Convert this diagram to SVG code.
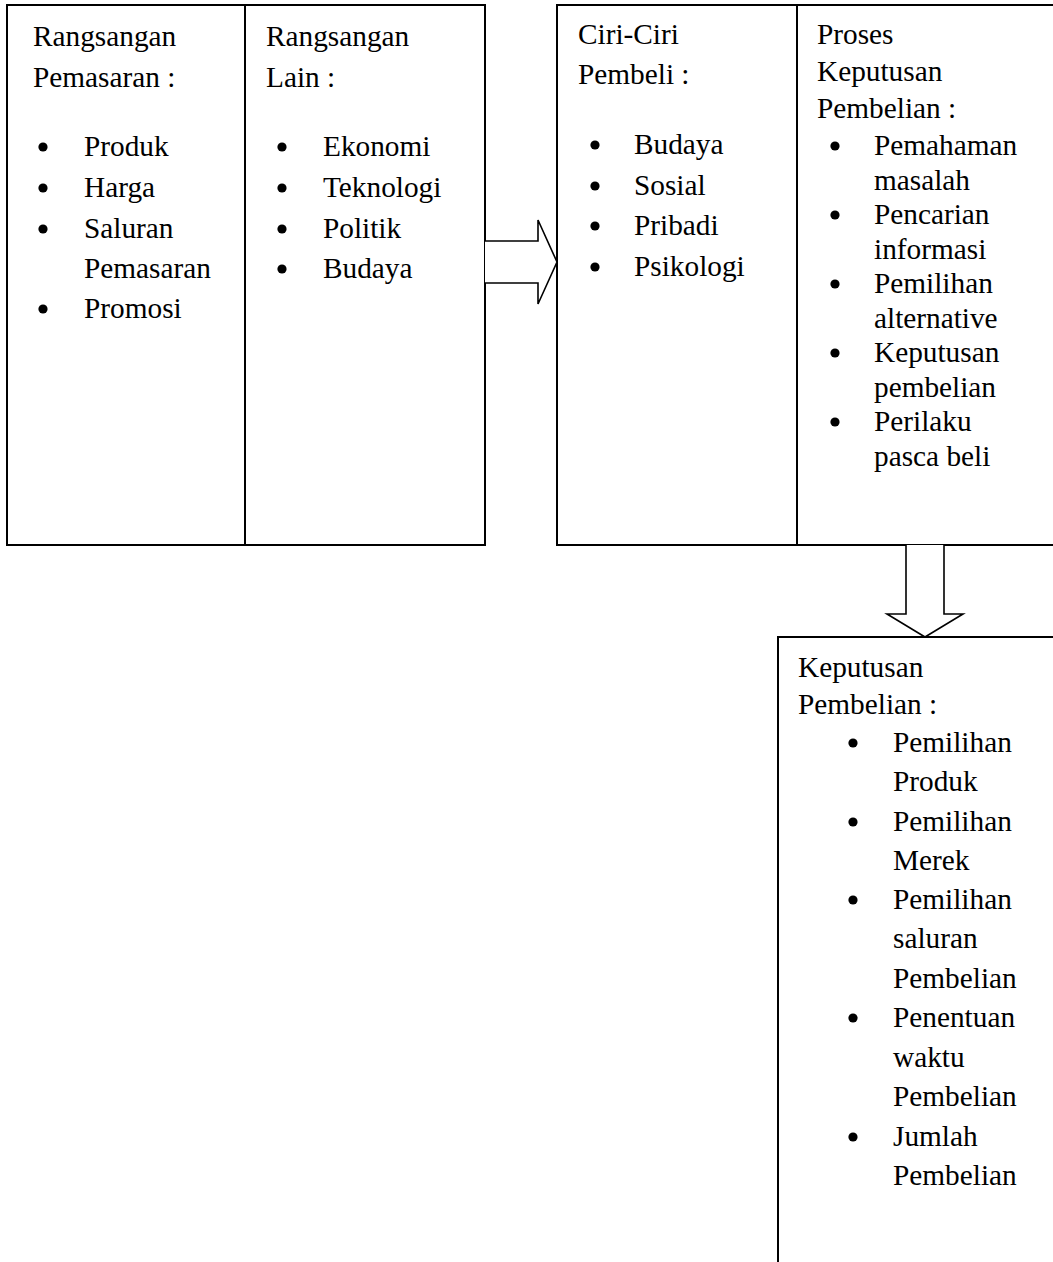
<svg xmlns="http://www.w3.org/2000/svg" width="1053" height="1262" viewBox="0 0 1053 1262">
<style>
text{font-family:"Liberation Serif","Times New Roman",serif;font-size:29.3px;fill:#000}
.box{fill:#fff;stroke:#000;stroke-width:2}
.b{fill:#000}
.conn{fill:#fff;stroke:#000;stroke-width:1.6;stroke-linejoin:miter}
</style>
<rect width="1053" height="1262" fill="#fff"/>
<g id="rangsangan-pemasaran">
<rect class="box" x="7" y="5" width="238" height="540"/>
<text x="33" y="46">Rangsangan</text>
<text x="33" y="87">Pemasaran :</text>
<circle class="b" cx="43" cy="147" r="4.6"/><text x="84" y="156">Produk</text>
<circle class="b" cx="43" cy="188" r="4.6"/><text x="84" y="197">Harga</text>
<circle class="b" cx="43" cy="229" r="4.6"/><text x="84" y="238">Saluran</text>
<text x="84" y="278">Pemasaran</text>
<circle class="b" cx="43" cy="309" r="4.6"/><text x="84" y="318">Promosi</text>
</g>
<g id="rangsangan-lain">
<rect class="box" x="245" y="5" width="240" height="540"/>
<text x="266" y="46">Rangsangan</text>
<text x="266" y="87">Lain :</text>
<circle class="b" cx="282" cy="147" r="4.6"/><text x="323" y="156">Ekonomi</text>
<circle class="b" cx="282" cy="188" r="4.6"/><text x="323" y="197">Teknologi</text>
<circle class="b" cx="282" cy="229" r="4.6"/><text x="323" y="238">Politik</text>
<circle class="b" cx="282" cy="269" r="4.6"/><text x="323" y="278">Budaya</text>
</g>
<g id="ciri-ciri-pembeli">
<rect class="box" x="557" y="5" width="240" height="540"/>
<text x="578" y="44">Ciri-Ciri</text>
<text x="578" y="84">Pembeli :</text>
<circle class="b" cx="595" cy="145" r="4.6"/><text x="634" y="154">Budaya</text>
<circle class="b" cx="595" cy="186" r="4.6"/><text x="634" y="195">Sosial</text>
<circle class="b" cx="595" cy="226" r="4.6"/><text x="634" y="235">Pribadi</text>
<circle class="b" cx="595" cy="267" r="4.6"/><text x="634" y="276">Psikologi</text>
</g>
<g id="proses-keputusan-pembelian">
<rect class="box" x="797" y="5" width="270" height="540"/>
<text x="817" y="44">Proses</text>
<text x="817" y="81">Keputusan</text>
<text x="817" y="118">Pembelian :</text>
<circle class="b" cx="835" cy="146" r="4.6"/><text x="874" y="155">Pemahaman</text>
<text x="874" y="189.5">masalah</text>
<circle class="b" cx="835" cy="215" r="4.6"/><text x="874" y="224">Pencarian</text>
<text x="874" y="258.5">informasi</text>
<circle class="b" cx="835" cy="284" r="4.6"/><text x="874" y="293">Pemilihan</text>
<text x="874" y="327.5">alternative</text>
<circle class="b" cx="835" cy="353" r="4.6"/><text x="874" y="362">Keputusan</text>
<text x="874" y="396.5">pembelian</text>
<circle class="b" cx="835" cy="422" r="4.6"/><text x="874" y="431">Perilaku</text>
<text x="874" y="465.5">pasca beli</text>
</g>
<g id="keputusan-pembelian">
<rect class="box" x="778" y="637" width="290" height="640"/>
<text x="798" y="677">Keputusan</text>
<text x="798" y="714">Pembelian :</text>
<circle class="b" cx="853" cy="743" r="4.6"/><text x="893" y="752">Pemilihan</text>
<text x="893" y="791">Produk</text>
<circle class="b" cx="853" cy="822" r="4.6"/><text x="893" y="831">Pemilihan</text>
<text x="893" y="870">Merek</text>
<circle class="b" cx="853" cy="900" r="4.6"/><text x="893" y="909">Pemilihan</text>
<text x="893" y="948">saluran</text>
<text x="893" y="988">Pembelian</text>
<circle class="b" cx="853" cy="1018" r="4.6"/><text x="893" y="1027">Penentuan</text>
<text x="893" y="1067">waktu</text>
<text x="893" y="1106">Pembelian</text>
<circle class="b" cx="853" cy="1137" r="4.6"/><text x="893" y="1146">Jumlah</text>
<text x="893" y="1185">Pembelian</text>
</g>
<g id="connectors">
<path class="conn" d="M485,241 H538 V220 L557,262 L538,304 V283 H485"/>
<path class="conn" d="M906,545 V614 H887 L925,637 L963,614 H944 V545"/>
</g>
</svg>
